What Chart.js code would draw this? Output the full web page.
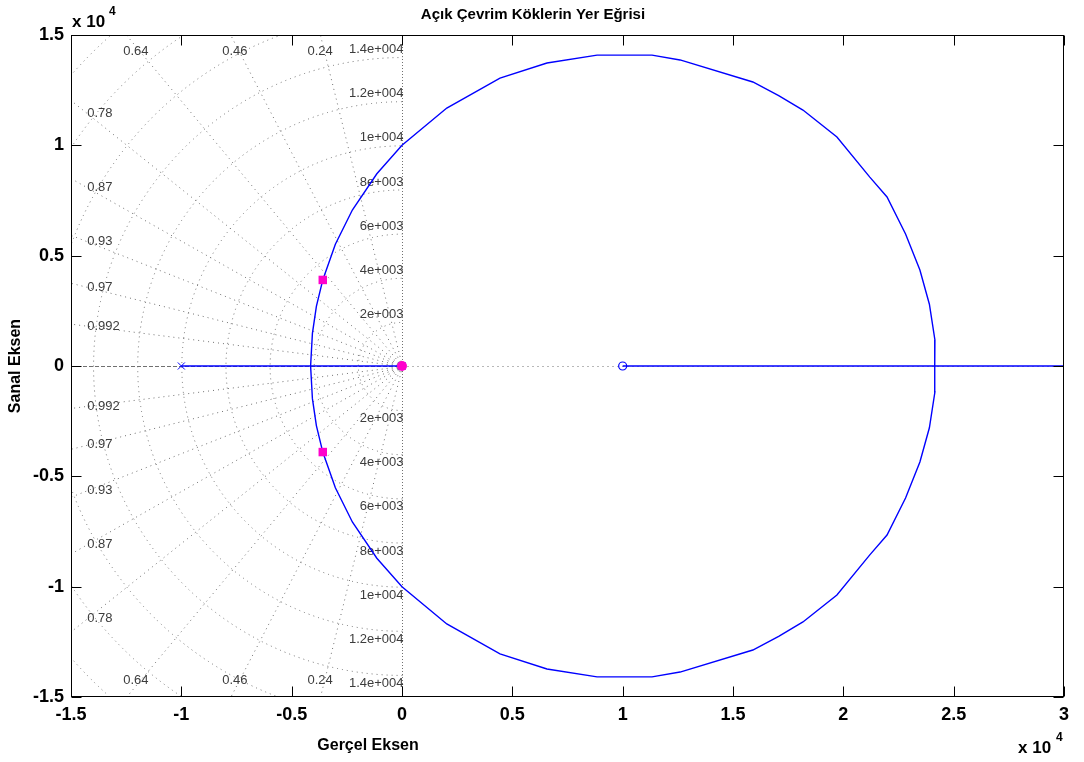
<!DOCTYPE html>
<html>
<head>
<meta charset="utf-8">
<script src="https://cdn.jsdelivr.net/npm/chart.js@4/dist/chart.umd.min.js"></script>
<style>
  body { margin: 0; background: #fff; }
</style>
</head>
<body>
<canvas id="rlocus" width="1084" height="762"></canvas>
<script>
// tick values (axis shown in units of 1e4)
var xTicks = [-15000, -10000, -5000, 0, 5000, 10000, 15000, 20000, 25000, 30000];
var yTicks = [-15000, -10000, -5000, 0, 5000, 10000, 15000];

// sgrid: damping ratios and natural frequencies
var zetaValues = [0.24, 0.46, 0.64, 0.78, 0.87, 0.93, 0.97, 0.992];
var wnValues = [2000, 4000, 6000, 8000, 10000, 12000, 14000, 16000, 18000, 20000];
var wnLabels = ["2e+003", "4e+003", "6e+003", "8e+003", "1e+004", "1.2e+004", "1.4e+004"];

// open loop poles and zero
var polesX = [-10000, 0];
var polesY = [0, 0];
var zerosX = [10000];
var zerosY = [0];

// locus on the real axis
var realLeftX = [-10000, 0];
var realRightX = [10000, 30000];

// complex branches
var upperX = [-4142, -4060, -3880, -3590, -3020, -2250, -1140, 0, 2030, 4440, 6570, 8840, 11330, 12600, 15900, 17070, 18170, 19710, 21200, 21980, 22820, 23470, 23900, 24150, 24142];
var upperY = [0, 1480, 2700, 3900, 5520, 7070, 8710, 10000, 11690, 13050, 13730, 14090, 14090, 13870, 12870, 12250, 11600, 10380, 8560, 7660, 5980, 4350, 2800, 1180, 0];
var lowerX = [-4142, -4060, -3880, -3590, -3020, -2250, -1140, 0, 2030, 4440, 6570, 8840, 11330, 12600, 15900, 17070, 18170, 19710, 21200, 21980, 22820, 23470, 23900, 24150, 24142];
var lowerY = [0, -1480, -2700, -3900, -5520, -7070, -8710, -10000, -11690, -13050, -13730, -14090, -14090, -13870, -12870, -12250, -11600, -10380, -8560, -7660, -5980, -4350, -2800, -1180, 0];

// selected closed loop roots
var pickX = [-3590, -3590];
var pickY = [3900, -3900];
var pickOriginX = [0];
var pickOriginY = [0];

function pts(xs, ys) {
  return xs.map(function(x, i) { return { x: x, y: ys[i] }; });
}

var tickFont = { family: "'Liberation Sans', Arial, sans-serif", size: 18, weight: "bold" };

var sgridPlugin = {
  id: "sgrid",
  beforeDatasetsDraw: function(chart) {
    var ctx = chart.ctx, a = chart.chartArea,
      xs = chart.scales.x, ys = chart.scales.y,
      ox = Math.round(xs.getPixelForValue(0)) + 0.5,
      oy = Math.round(ys.getPixelForValue(0)) + 0.5;
    ctx.save();
    ctx.beginPath();
    ctx.rect(a.left, a.top, a.right - a.left, a.bottom - a.top);
    ctx.clip();
    ctx.strokeStyle = "#707070";
    ctx.lineWidth = 1;
    ctx.setLineDash([1, 4]);

    // damping lines
    zetaValues.forEach(function(z) {
      var s = Math.sqrt(1 - z * z), r = 40000;
      [1, -1].forEach(function(sg) {
        ctx.beginPath();
        ctx.moveTo(ox, oy);
        ctx.lineTo(xs.getPixelForValue(-r * z), ys.getPixelForValue(sg * r * s));
        ctx.stroke();
      });
    });
    // natural frequency arcs
    wnValues.forEach(function(w) {
      var rx = xs.getPixelForValue(w) - xs.getPixelForValue(0),
        ry = ys.getPixelForValue(0) - ys.getPixelForValue(w);
      ctx.beginPath();
      ctx.ellipse(ox, oy, rx, ry, 0, Math.PI / 2, 3 * Math.PI / 2);
      ctx.stroke();
    });
    // imaginary axis
    ctx.setLineDash([1, 2]);
    ctx.beginPath();
    ctx.moveTo(ox, a.top);
    ctx.lineTo(ox, a.bottom);
    ctx.stroke();
    // real axis
    ctx.setLineDash([1, 4]);
    ctx.beginPath();
    ctx.moveTo(ox, oy);
    ctx.lineTo(a.right, oy);
    ctx.stroke();
    ctx.setLineDash([4, 2]);
    ctx.beginPath();
    ctx.moveTo(a.left, oy);
    ctx.lineTo(ox, oy);
    ctx.stroke();
    ctx.setLineDash([]);

    // labels
    ctx.fillStyle = "#3c3c3c";
    ctx.font = "13px 'Liberation Sans', Arial, sans-serif";
    var lim = 15000 * 0.951;
    zetaValues.forEach(function(z) {
      var s = Math.sqrt(1 - z * z), t = s / z;
      [1, -1].forEach(function(sg) {
        if (t >= 1) {
          var px = xs.getPixelForValue(-lim / t) - 4, py = ys.getPixelForValue(sg * lim);
          ctx.textAlign = "center";
          ctx.textBaseline = "middle";
          ctx.fillText(String(z), px, py);
        } else {
          var px2 = xs.getPixelForValue(-lim), py2 = ys.getPixelForValue(sg * lim * t);
          ctx.textAlign = "left";
          ctx.textBaseline = "middle";
          ctx.fillText(String(z), px2, py2);
        }
      });
    });
    ctx.textAlign = "right";
    wnLabels.forEach(function(lab, i) {
      var w = wnValues[i];
      ctx.textBaseline = "bottom";
      ctx.fillText(lab, ox + 1, ys.getPixelForValue(w) - 1);
      ctx.textBaseline = "top";
      ctx.fillText(lab, ox + 1, ys.getPixelForValue(-w) + 2);
    });
    ctx.restore();
  },
  afterDraw: function(chart) {
    var ctx = chart.ctx, a = chart.chartArea,
      xs = chart.scales.x, ys = chart.scales.y,
      L = Math.round(a.left) + 0.5, R = Math.round(a.right) - 0.5,
      T = Math.round(a.top) + 0.5, B = Math.round(a.bottom) - 0.5, tl = 10;
    ctx.save();
    ctx.strokeStyle = "#000";
    ctx.lineWidth = 1;
    ctx.strokeRect(L, T, R - L, B - T);
    ctx.beginPath();
    xTicks.forEach(function(v) {
      var p = Math.round(xs.getPixelForValue(v)) + 0.5;
      ctx.moveTo(p, B); ctx.lineTo(p, B - tl);
      ctx.moveTo(p, T); ctx.lineTo(p, T + tl);
    });
    yTicks.forEach(function(v) {
      var p = Math.round(ys.getPixelForValue(v)) + 0.5;
      ctx.moveTo(L, p); ctx.lineTo(L + tl, p);
      ctx.moveTo(R, p); ctx.lineTo(R - tl, p);
    });
    ctx.stroke();

    ctx.fillStyle = "#000";
    // title
    ctx.font = "bold 15px 'Liberation Sans', Arial, sans-serif";
    ctx.textAlign = "center";
    ctx.textBaseline = "middle";
    ctx.fillText("Açık Çevrim Köklerin Yer Eğrisi", 533, 15);
    // axis titles
    ctx.font = "bold 16px 'Liberation Sans', Arial, sans-serif";
    ctx.fillText("Gerçel Eksen", 368, 746);
    ctx.save();
    ctx.translate(16, 366);
    ctx.rotate(-Math.PI / 2);
    ctx.fillText("Sanal Eksen", 0, 0);
    ctx.restore();
    // exponent labels
    ctx.textAlign = "left";
    ctx.font = "bold 17px 'Liberation Sans', Arial, sans-serif";
    ctx.fillText("x 10", 72, 22);
    ctx.fillText("x 10", 1018, 748);
    ctx.font = "bold 12px 'Liberation Sans', Arial, sans-serif";
    ctx.fillText("4", 109, 12);
    ctx.fillText("4", 1056, 738);
    ctx.restore();
  }
};

var lineStyle = { showLine: true, borderColor: "#0000ff", borderWidth: 1.4, pointRadius: 0, tension: 0, order: 3 };

var config = {
  type: "scatter",
  data: {
    datasets: [
      Object.assign({ data: pts(realLeftX, [0, 0]) }, lineStyle),
      Object.assign({ data: pts(realRightX, [0, 0]) }, lineStyle),
      Object.assign({ data: pts(upperX, upperY) }, lineStyle),
      Object.assign({ data: pts(lowerX, lowerY) }, lineStyle),
      {
        data: pts(polesX, polesY),
        pointStyle: "crossRot",
        pointRadius: 5,
        borderColor: "#0000ff",
        borderWidth: 1,
        order: 2
      },
      {
        data: pts(zerosX, zerosY),
        pointStyle: "circle",
        pointRadius: 4,
        borderColor: "#0000ff",
        backgroundColor: "rgba(0,0,0,0)",
        borderWidth: 1.2,
        order: 2
      },
      {
        data: pts(pickX, pickY),
        pointStyle: "rect",
        pointRadius: 6,
        borderColor: "#ff00cc",
        backgroundColor: "#ff00cc",
        borderWidth: 0,
        order: 1
      },
      {
        data: pts(pickOriginX, pickOriginY),
        pointStyle: "circle",
        pointRadius: 5,
        borderColor: "#ff00cc",
        backgroundColor: "#ff00cc",
        borderWidth: 0,
        order: 0
      }
    ]
  },
  options: {
    responsive: false,
    animation: false,
    events: [],
    layout: { padding: { top: 35, right: 20, left: 0, bottom: 0 } },
    plugins: { legend: { display: false }, tooltip: { enabled: false } },
    scales: {
      x: {
        type: "linear",
        min: -15000,
        max: 30000,
        afterBuildTicks: function(s) { s.ticks = xTicks.map(function(v) { return { value: v }; }); },
        afterFit: function(s) { s.height = 65; },
        ticks: {
          callback: function(v) { return String(Math.round(v / 1000) / 10); },
          font: tickFont, color: "#000", padding: 7, maxRotation: 0, autoSkip: false
        },
        grid: { display: false, drawTicks: false },
        border: { display: false }
      },
      y: {
        type: "linear",
        min: -15000,
        max: 15000,
        afterBuildTicks: function(s) { s.ticks = yTicks.map(function(v) { return { value: v }; }); },
        afterFit: function(s) { s.width = 71; },
        ticks: {
          callback: function(v) { return String(Math.round(v / 1000) / 10); },
          font: tickFont, color: "#000", padding: 7, autoSkip: false
        },
        grid: { display: false, drawTicks: false },
        border: { display: false }
      }
    }
  },
  plugins: [sgridPlugin]
};

var rlChart = new Chart(document.getElementById("rlocus"), config);
</script>
</body>
</html>
